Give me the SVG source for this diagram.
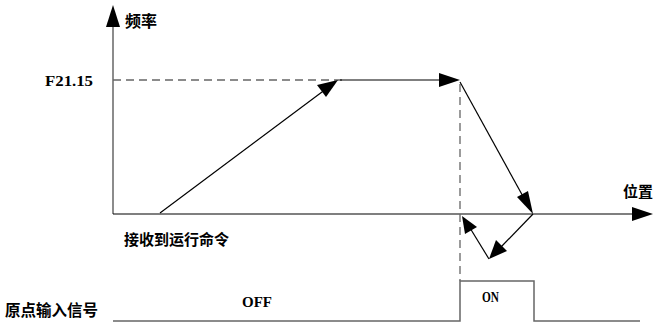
<svg xmlns="http://www.w3.org/2000/svg" width="655" height="323" viewBox="0 0 655 323">
<style>
.t{font-family:"Noto Sans CJK SC","Liberation Sans",sans-serif;font-weight:bold;fill:#000}
.n{font-family:"Liberation Serif",serif;font-weight:bold;fill:#000}
.ax{stroke:#666;stroke-width:1.5;fill:none}
.dash{stroke:#666;stroke-width:1.3;stroke-dasharray:8,5;fill:none}
.ln{stroke:#000;stroke-width:1.2;fill:none}
.ah{fill:#000}
</style>
<rect width="655" height="323" fill="#fff"/>
<g id="axes">
<line class="ax" x1="113" y1="214" x2="113" y2="24"/>
<polygon class="ah" points="113,5 106,27 120,27"/>
<line class="ln" x1="113" y1="214" x2="636" y2="214"/>
<polygon class="ah" points="653,214 632,207 632,221"/>
</g>
<g id="labels">
<text class="t" x="125" y="27" font-size="16">频率</text>
<text class="t" x="623" y="197" font-size="15">位置</text>
<text class="n" x="45" y="86" font-size="14" textLength="48" lengthAdjust="spacingAndGlyphs">F21.15</text>
<text class="t" x="124" y="245" font-size="15">接收到运行命令</text>
<text class="t" x="5" y="316" font-size="15.5">原点输入信号</text>
<text class="n" x="242" y="307" font-size="14" textLength="30" lengthAdjust="spacingAndGlyphs">OFF</text>
<text class="n" x="482" y="302" font-size="14" textLength="17" lengthAdjust="spacingAndGlyphs">ON</text>
</g>
<g id="signal">
<polyline class="ax" points="113,321 460,321 460,281 534,281 534,321 640,321"/>
</g>
<g id="connectors">
<line class="dash" x1="113" y1="80" x2="345" y2="80"/>
<line class="dash" x1="460" y1="84" x2="460" y2="281"/>
<line class="ln" x1="160" y1="213" x2="326" y2="89"/>
<polygon class="ah" points="338,80 317,85 326,97"/>
<line class="ln" x1="340" y1="80" x2="444" y2="80" stroke="#555" stroke-width="1.5"/>
<polygon class="ah" points="460,80 439,73 439,87"/>
<line class="ln" x1="460" y1="82" x2="525" y2="200"/>
<polygon class="ah" points="533,214 517,197 528,191"/>
<line class="ln" x1="533" y1="214" x2="501" y2="247"/>
<polygon class="ah" points="489,259 496,240 507,251"/>
<line class="ln" x1="489" y1="259" x2="470" y2="228"/>
<polygon class="ah" points="462,216 477,227 465,234"/>
</g>
</svg>
